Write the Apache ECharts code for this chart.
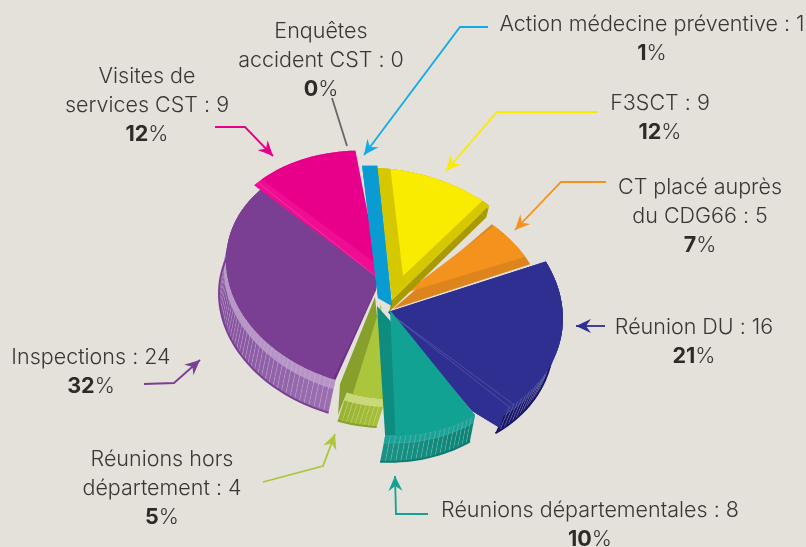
<!DOCTYPE html>
<html>
<head>
<meta charset="utf-8">
<style>
  html, body { margin: 0; padding: 0; background: #e4e0da; }
  #chart { width: 806px; height: 547px; }
</style>
<script src="https://cdn.jsdelivr.net/npm/echarts@6/dist/echarts.min.js"></script>
</head>
<body>
<div id="chart"></div>
<script>
// data, clockwise from the top
const names = ['Enquêtes\naccident CST', 'Action médecine préventive', 'F3SCT', 'CT placé auprès\ndu CDG66', 'Réunion DU', 'Réunions départementales', 'Réunions hors\ndépartement', 'Inspections', 'Visites de\nservices CST']
const values = [0, 1, 9, 5, 16, 8, 4, 24, 9]
const percents = [0, 1, 12, 7, 21, 10, 5, 32, 12]

// look of each slice, same order as above
const faceColors = ['#888888', '#0a9bd2', '#f9ec00', '#f3931d', '#2e2f90', '#11a294', '#acc63c', '#7a3f92', '#e9008a']
const bandColors = ['#888888', '#0a9bd2', '#d6c800', '#dd851c', '#2e2f90', '#0e8c80', '#87a02c', '#6b2f85', '#ee0d93']
const wallColors = [
  ['#888888', '#888888'], ['#0a9bd2', '#0a9bd2'], ['#a89a00', '#a89a00'], ['#a5650f', '#a5650f'],
  ['#17166a', '#17166a'], ['#0c8276', '#1a9387'], ['#a6c038', '#98b030'], ['#9a6fb0', '#8650a0', '#52286e'], ['#e9008a', '#e9008a']
]
const rimColors = ['#888888', '#0a9bd2', '#d6c800', '#dd851c', '#2e2f90', '#19a396', '#c8d875', '#b694c6', '#e9008a']
const footColors = [null, null, null, null, '#17166a', '#0c7a6f', '#87a02c', '#7a3f92', null]
// c = centre of the arc, apex = tip of the whole wedge, face = tip of the flat top, extra = corners
// closing the wedge (bandOnly: not on the flat top), r = radius, inL/inR = band width in degrees,
// v = extrusion vector, side = also draw the wall under the closing edge, lines = faint fold lines
const sliceLayout = [
  { c: [392, 300], apex: [392, 300], face: [392, 300], r: 170, inL: 0, inR: 0, v: null },
  { c: [386, 306], apex: [378, 298], face: [378, 298], extra: [[392, 306]], r: 185, inL: 0, inR: 0, v: null },
  { c: [384, 293], apex: [392, 300], face: [403, 276], r: 165, inL: 5, inR: 3, v: [-3, 12], side: true },
  { c: [395, 305], apex: [393, 309], face: [405, 293], r: 152, inL: 1, inR: 4, v: null },
  { c: [398, 306], apex: [388, 312], face: [388, 312], extra: [[500, 428], [472, 411]], r: 166, inL: 0, inR: 0, v: [-10, 24], lines: [72, 74] },
  { c: [378, 322], apex: [377, 306], face: [390, 310], r: 150, inL: 0, inR: 4, v: [-5, 26] },
  { c: [380, 308], apex: [375, 297], face: [381, 304], extra: [[338, 415], [340, 384]], bandOnly: true, r: 120, inL: 0, inR: 3, v: [-9, 28] },
  { c: [378, 272], apex: [376, 290], face: [376, 290], extra: [[378, 274]], r: 153, inL: 1, inR: 0, v: [-7, 33] },
  { c: [376, 272], apex: [378, 278], face: [378, 265], r: 160, inL: 4, inR: 0, v: null, lines: [2] }
]
const drawOrder = [0, 7, 8, 3, 2, 1, 4, 6, 5]
const startDeg = -15
const squash = 0.75
const tiltDeg = 10

// label block: centre x, top y of the block
const labelPos = [[321, 17], [652, 10], [660, 89], [700, 173], [694, 313], [590, 496], [162, 445], [91, 343], [147, 62]]
const arrows = [
  { color: '#666666', head: false, path: [[332, 98], [347, 146]] },
  { color: '#11ace6', head: true, path: [[488, 27], [460, 27], [364, 155]] },
  { color: '#f9ec00', head: true, path: [[598, 112], [497, 112], [446, 171]] },
  { color: '#f3931d', head: true, path: [[606, 182], [561, 182], [515, 230]] },
  { color: '#2e2f90', head: true, path: [[605, 326], [576, 326]] },
  { color: '#11a294', head: true, path: [[428, 514], [396, 514], [395, 476]] },
  { color: '#acc63c', head: true, path: [[263, 482], [323, 466], [335, 434]] },
  { color: '#7a3f92', head: true, path: [[144, 384], [174, 383], [200, 360]] },
  { color: '#e9008a', head: true, path: [[215, 127], [245, 127], [273, 156]] }
]

const total = values.reduce((a, b) => a + b, 0)
const startAngles = []
values.reduce((acc, v, i) => {
  startAngles[i] = acc
  return acc + (v / total) * 360
}, startDeg)

const rad = (d) => (d * Math.PI) / 180

function onEllipse(o, deg, r) {
  const x = r * Math.sin(rad(deg))
  const y = -r * squash * Math.cos(rad(deg))
  const t = rad(tiltDeg)
  return [o[0] + x * Math.cos(t) - y * Math.sin(t), o[1] + x * Math.sin(t) + y * Math.cos(t)]
}

function arcPoints(o, a0, a1, r) {
  const out = []
  const steps = Math.max(2, Math.round((a1 - a0) / 2))
  for (let i = 0; i <= steps; i++) out.push(onEllipse(o, a0 + ((a1 - a0) * i) / steps, r))
  return out
}

const moved = (p, v, part) => [p[0] + v[0] * part, p[1] + v[1] * part]

function renderSlice(params, api) {
  const i = api.value(0)
  const l = sliceLayout[i]
  if (!values[i]) return { type: 'group', children: [] }
  const a0 = startAngles[i]
  const a1 = a0 + (values[i] / total) * 360
  const children = []
  const wholeArc = arcPoints(l.c, a0, a1, l.r)
  const hatch = 'rgba(255,255,255,0.22)'
  const closing = l.extra || []

  // outer wall, cut in small quads so it gets the ribbed look
  if (l.v) {
    const n = wholeArc.length - 1
    if (l.side) {
      const last = wholeArc[n]
      children.push({
        type: 'polygon',
        shape: { points: [l.apex, last, moved(last, l.v, 1), moved(l.apex, l.v, 1)] },
        style: { fill: wallColors[i][0] }
      })
    }
    const foot = []
    for (let j = 0; j < n; j++) {
      const p0 = wholeArc[j]
      const p1 = wholeArc[j + 1]
      const fill = echarts.color.lerp(j / n, wallColors[i])
      if (!j) foot.push(moved(p0, l.v, 1))
      foot.push(moved(p1, l.v, 1))
      children.push({
        type: 'polygon',
        shape: { points: [p0, p1, moved(p1, l.v, 1), moved(p0, l.v, 1)] },
        style: { fill: fill, stroke: hatch, lineWidth: 0.5 }
      })
      children.push({
        type: 'polygon',
        shape: { points: [p0, p1, moved(p1, l.v, 0.28), moved(p0, l.v, 0.28)] },
        style: { fill: rimColors[i], stroke: hatch, lineWidth: 0.5 }
      })
    }
    if (footColors[i]) {
      children.push({
        type: 'polyline',
        shape: { points: foot },
        style: { fill: 'none', stroke: footColors[i], lineWidth: 2 }
      })
    }
  }
  // whole wedge in the band colour
  children.push({
    type: 'polygon',
    shape: { points: [l.apex].concat(wholeArc, closing) },
    style: { fill: bandColors[i] }
  })
  // flat top
  children.push({
    type: 'polygon',
    shape: { points: [l.face].concat(arcPoints(l.c, a0 + l.inL, a1 - l.inR, l.r), l.bandOnly ? [] : closing) },
    style: { fill: faceColors[i] }
  })
  ;(l.lines || []).forEach((d) => {
    children.push({
      type: 'polyline',
      shape: { points: [l.apex, onEllipse(l.c, a0 + d, l.r)] },
      style: { fill: 'none', stroke: 'rgba(255,255,255,0.25)', lineWidth: 0.6 }
    })
  })
  return { type: 'group', children: children }
}

function arrowGraphic(a) {
  const line = { type: 'polyline', shape: { points: a.path }, style: { fill: 'none', stroke: a.color, lineWidth: 1.8 }, silent: true }
  if (!a.head) return [line]
  const tip = a.path[a.path.length - 1]
  const prev = a.path[a.path.length - 2]
  const len = Math.hypot(tip[0] - prev[0], tip[1] - prev[1])
  const u = [(tip[0] - prev[0]) / len, (tip[1] - prev[1]) / len]
  const n = [-u[1], u[0]]
  const pt = (back, side) => [tip[0] - u[0] * back + n[0] * side, tip[1] - u[1] * back + n[1] * side]
  return [line, {
    type: 'polygon',
    shape: { points: [tip, pt(15, 7), pt(10, 0), pt(15, -7)] },
    style: { fill: a.color },
    silent: true
  }]
}

function labelGraphic(i) {
  const lines = (names[i] + ' : ' + values[i]).split('\n').map((t) => '{t|' + t + '}')
  lines.push('{b|' + percents[i] + '}{t|%}')
  return {
    type: 'text',
    x: labelPos[i][0],
    y: labelPos[i][1],
    silent: true,
    style: {
      text: lines.join('\n'),
      align: 'center',
      verticalAlign: 'top',
      rich: {
        t: { fontFamily: 'Inter', fontSize: 21.5, fontWeight: 300, lineHeight: 29, fill: '#3a3634', color: '#3a3634' },
        b: { fontFamily: 'Inter', fontSize: 21.5, fontWeight: 'bold', lineHeight: 29, fill: '#2e2a28', color: '#2e2a28' }
      }
    }
  }
}

const chart = echarts.init(document.getElementById('chart'))
chart.setOption({
  animation: false,
  backgroundColor: '#e4e0da',
  series: [{
    type: 'custom',
    coordinateSystem: 'none',
    silent: true,
    renderItem: renderSlice,
    data: drawOrder.map((i) => [i]),
    encode: { value: 0 }
  }],
  graphic: arrows.flatMap(arrowGraphic).concat(names.map((n, i) => labelGraphic(i)))
})
</script>
</body>
</html>
